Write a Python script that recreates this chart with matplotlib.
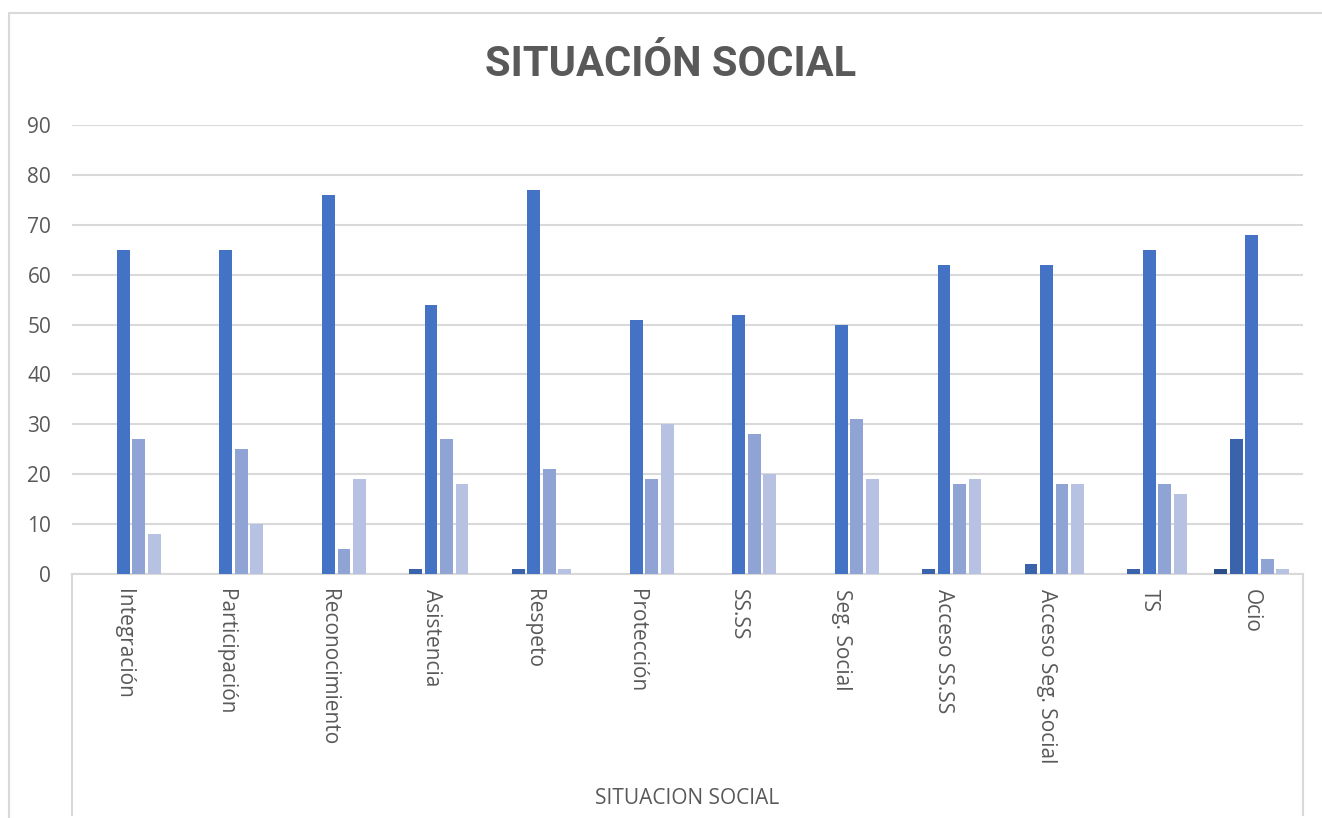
import numpy as np
import matplotlib.pyplot as plt
from matplotlib.lines import Line2D
from matplotlib.patches import Rectangle

plt.rcParams['font.family'] = ['Open Sans', 'DejaVu Sans']

# categorias y valores de cada serie
categorias = ['Integración', 'Participación', 'Reconocimiento', 'Asistencia',
              'Respeto', 'Protección', 'SS.SS', 'Seg. Social', 'Acceso SS.SS',
              'Acceso Seg. Social', 'TS', 'Ocio']
serie1 = [0, 0, 0, 0, 0, 0, 0, 0, 0, 0, 0, 1]
serie2 = [0, 0, 0, 1, 1, 0, 0, 0, 1, 2, 1, 27]
serie3 = [65, 65, 76, 54, 77, 51, 52, 50, 62, 62, 65, 68]
serie4 = [27, 25, 5, 27, 21, 19, 28, 31, 18, 18, 18, 3]
serie5 = [8, 10, 19, 18, 1, 30, 20, 19, 19, 18, 16, 1]
yticks = [0, 10, 20, 30, 40, 50, 60, 70, 80, 90]

series = [serie1, serie2, serie3, serie4, serie5]
colores = ['#2c4f8c', '#3a63ab', '#4472c4', '#8fa3d5', '#b7c2e2']

W, H = 1322, 818
fig = plt.figure(figsize=(W / 100, H / 100), dpi=100)
x0, x1, y0, y1 = 72, 1303, 574, 125
ax = fig.add_axes([x0 / W, 1 - y0 / H, (x1 - x0) / W, (y0 - y1) / H])

x = np.arange(len(categorias))
paso = 0.151
ancho = 0.125
for i, (vals, col) in enumerate(zip(series, colores)):
    ax.bar(x + (i - 2) * paso, vals, width=ancho, color=col, zorder=3)

ax.set_xlim(-0.5, len(categorias) - 0.5)
ax.set_ylim(0, 90)
ax.set_yticks(yticks)
ax.yaxis.grid(True, color='#d9d9d9', lw=1.5, zorder=0)
ax.set_axisbelow(True)
for s in ['top', 'right', 'left']:
    ax.spines[s].set_visible(False)
ax.spines['bottom'].set_color('#d9d9d9')
ax.spines['bottom'].set_linewidth(1.5)
ax.set_xticks(x)
ax.set_xticklabels(categorias, rotation=270, va='top', ha='center',
                   fontsize=15, color='#595959')
ax.tick_params(axis='x', length=0, pad=11)
ax.tick_params(axis='y', length=0, pad=15, labelsize=15, labelcolor='#595959')

# lineas del cuadro del eje de categorias
for xp in (x0, x1):
    fig.add_artist(Line2D([xp / W, xp / W], [1 - y0 / H, 1 - 815 / H],
                          color='#d9d9d9', lw=1.5))
# borde del grafico
fig.add_artist(Rectangle((9 / W, -0.05), 1.2, 1 - 13 / H + 0.05, fill=False,
                         edgecolor='#d9d9d9', lw=1.5))

fig.text(671 / W, 1 - 65 / H, 'SITUACIÓN SOCIAL', ha='center', va='center',
         fontsize=30, fontweight='bold', color='#595959',
         family=['Roboto', 'DejaVu Sans'])
fig.text(687 / W, 1 - 798 / H, 'SITUACION SOCIAL', ha='center', va='center',
         fontsize=15, color='#595959')

fig.savefig('out.png', dpi=100)
